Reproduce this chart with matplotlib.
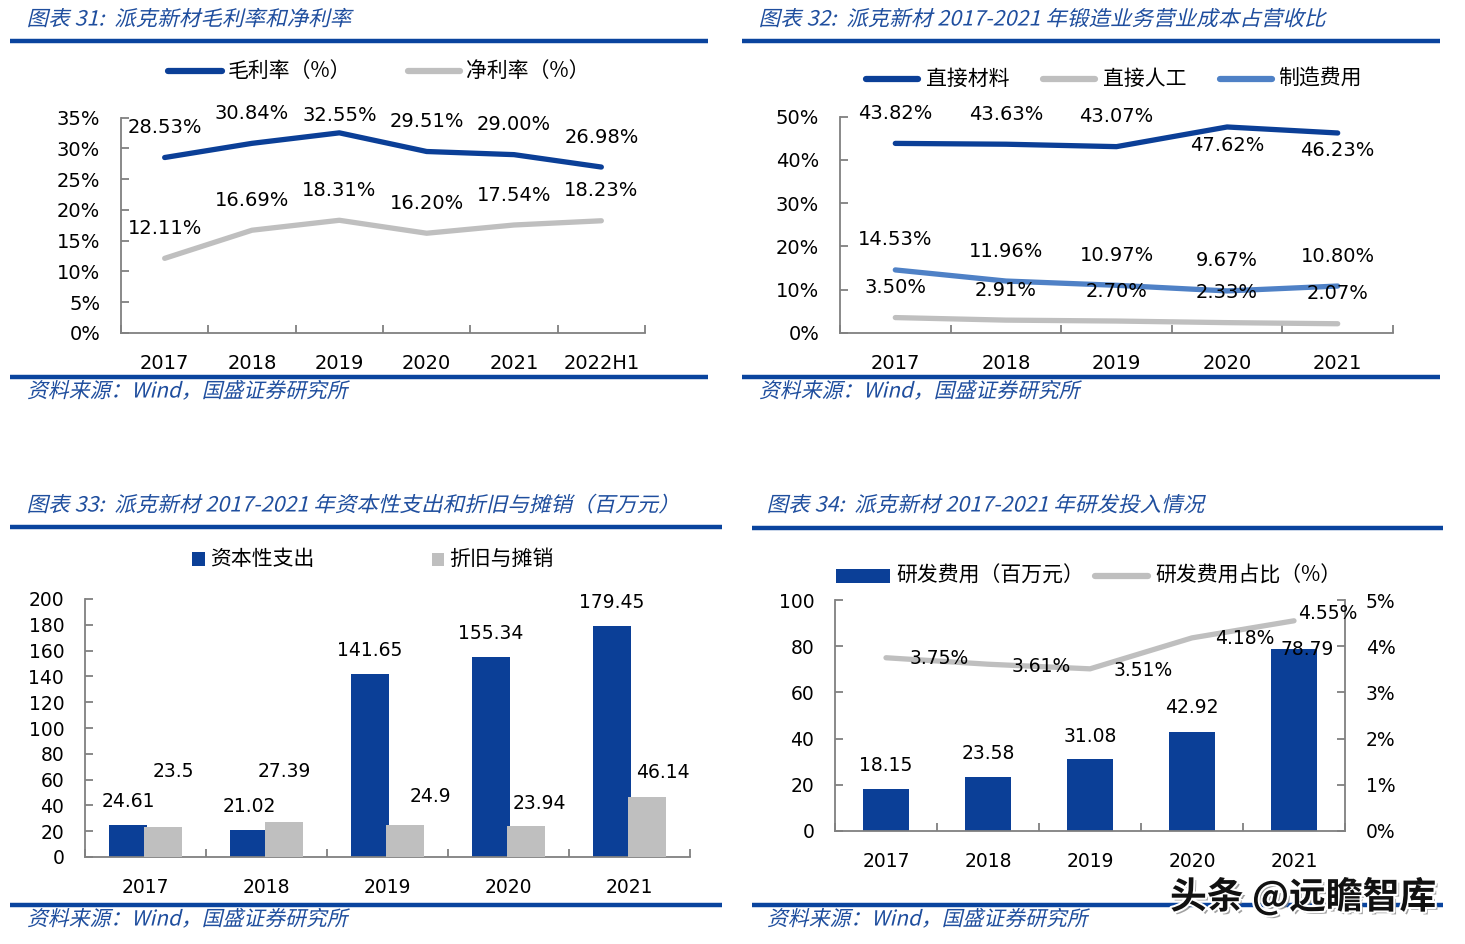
import matplotlib
matplotlib.use('Agg')
import matplotlib.pyplot as plt
import numpy as np
from matplotlib.font_manager import FontProperties
from matplotlib.textpath import TextPath
from matplotlib.patches import PathPatch, Rectangle
from matplotlib.transforms import Affine2D, IdentityTransform
from matplotlib.lines import Line2D
import matplotlib.patheffects as pe
from matplotlib.ticker import FuncFormatter

# ---------------- data ----------------
years6 = ['2017', '2018', '2019', '2020', '2021', '2022H1']
gross_margin = [28.53, 30.84, 32.55, 29.51, 29.00, 26.98]
net_margin = [12.11, 16.69, 18.31, 16.20, 17.54, 18.23]

years5 = ['2017', '2018', '2019', '2020', '2021']
direct_material = [43.82, 43.63, 43.07, 47.62, 46.23]
direct_labor = [3.50, 2.91, 2.70, 2.33, 2.07]
manufacturing = [14.53, 11.96, 10.97, 9.67, 10.80]

capex = [24.61, 21.02, 141.65, 155.34, 179.45]
depreciation = [23.5, 27.39, 24.9, 23.94, 46.14]

rd_expense = [18.15, 23.58, 31.08, 42.92, 78.79]
rd_ratio = [3.75, 3.61, 3.51, 4.18, 4.55]

titles = ['图表 31:  派克新材毛利率和净利率',
          '图表 32:  派克新材 2017-2021 年锻造业务营业成本占营收比',
          '图表 33:  派克新材 2017-2021 年资本性支出和折旧与摊销（百万元）',
          '图表 34:  派克新材 2017-2021 年研发投入情况']
source = '资料来源：Wind，国盛证券研究所'

# ---------------- style ----------------
W, H, DPI = 1465, 944, 100
DARK = '#0B3F97'
GRAY = '#BFBFBF'
LIGHT = '#4F81C6'
TITLE = '#1F4E9E'
RULE = '#0A449E'
SPINE = '#808080'
CJK = ['Noto Sans CJK SC', 'DejaVu Sans']
plt.rcParams['font.family'] = ['DejaVu Sans', 'Noto Sans CJK SC']
plt.rcParams['text.color'] = 'black'

fig = plt.figure(figsize=(W / DPI, H / DPI), dpi=DPI)
fig.patch.set_facecolor('white')


def add_axes_px(l, t, r, b):
    return fig.add_axes([l / W, 1 - b / H, (r - l) / W, (b - t) / H])


def rule(x1, x2, y, lw=3.2):
    fig.add_artist(Line2D([x1 / W, x2 / W], [1 - y / H] * 2, color=RULE, lw=lw,
                          transform=fig.transFigure, solid_capstyle='butt'))


def slanted(x, yc, s, size, color=TITLE, hscale=1.0, skew=13):
    fp = FontProperties(family=CJK, size=size)
    tp = TextPath((0, 0), s, prop=fp)
    k = DPI / 72.0
    p = Affine2D().skew_deg(skew, 0).scale(k * hscale, k).transform_path(tp)
    ext = p.get_extents()
    base = (H - yc) - 0.36 * size * k
    p = Affine2D().translate(x - ext.x0, base).transform_path(p)
    fig.add_artist(PathPatch(p, facecolor=color, edgecolor='none', lw=0,
                             transform=IdentityTransform()))


def leg_line(x1, x2, y, color, lw=4.5):
    fig.add_artist(Line2D([x1 / W, x2 / W], [1 - y / H] * 2, color=color, lw=lw,
                          solid_capstyle='round', transform=fig.transFigure))


def leg_rect(x1, x2, y1, y2, color):
    fig.add_artist(Rectangle((x1 / W, 1 - y2 / H), (x2 - x1) / W, (y2 - y1) / H,
                             facecolor=color, edgecolor='none', transform=fig.transFigure))


def leg_text(x, y, s, size=15):
    fig.text(x / W, 1 - y / H, s, fontsize=size, family=CJK, va='center', ha='left')


def style_ax(ax, labels, ylim, yticks, yfmt, fs):
    n = len(labels)
    ax.set_xlim(-0.5, n - 0.5)
    ax.set_ylim(*ylim)
    for s in ['top', 'right']:
        ax.spines[s].set_visible(False)
    for s in ['left', 'bottom']:
        ax.spines[s].set_color(SPINE)
        ax.spines[s].set_linewidth(1.3)
    ax.set_xticks(range(n))
    ax.set_xticklabels(labels)
    ax.set_xticks(np.arange(n + 1) - 0.5, minor=True)
    ax.tick_params(axis='x', which='major', length=0, pad=15, labelsize=fs)
    ax.tick_params(axis='x', which='minor', direction='in', length=6, width=1.3, color=SPINE)
    ax.set_yticks(yticks)
    ax.yaxis.set_major_formatter(FuncFormatter(yfmt))
    ax.tick_params(axis='y', direction='in', length=6, width=1.3, pad=15, labelsize=fs, color=SPINE)
    ax.patch.set_alpha(0)


pct = lambda v, p: f'{v:.0f}%'
num = lambda v, p: f'{v:.0f}'

TS, TH = 15, 1.035   # title size / horizontal scale
SS = 15              # source size

# ---------------- panel 1 ----------------
slanted(28, 18, titles[0], TS, hscale=TH)
rule(10, 708, 41)
leg_line(168, 222, 71, DARK)
leg_text(228, 71, '毛利率（%）')
leg_line(408, 460, 71, GRAY)
leg_text(466, 71, '净利率（%）')

ax1 = add_axes_px(121, 117.8, 645, 332.7)
style_ax(ax1, years6, (0, 35), range(0, 36, 5), pct, 14)
x6 = np.arange(len(years6))
ax1.plot(x6, gross_margin, color=DARK, lw=3.8, solid_capstyle='round', clip_on=False)
ax1.plot(x6, net_margin, color=GRAY, lw=3.8, solid_capstyle='round', clip_on=False)
gm_dy = [30, 30, 17.5, 30, 30, 30]
for i, v in enumerate(gross_margin):
    ax1.annotate(f'{v:.2f}%', (i, v), xytext=(0, gm_dy[i]), textcoords='offset pixels',
                 ha='center', va='center', fontsize=14, annotation_clip=False)
for i, v in enumerate(net_margin):
    ax1.annotate(f'{v:.2f}%', (i, v), xytext=(0, 30), textcoords='offset pixels',
                 ha='center', va='center', fontsize=14, annotation_clip=False)
rule(10, 708, 377)
slanted(28, 390, source, SS)

# ---------------- panel 2 ----------------
slanted(760, 18, titles[1], TS, hscale=TH)
rule(742, 1440, 41)
leg_line(866, 918, 79, DARK)
leg_text(926, 79, '直接材料')
leg_line(1043, 1095, 79, GRAY)
leg_text(1103, 79, '直接人工')
leg_line(1220, 1272, 79, LIGHT)
leg_text(1278, 79, '制造费用')

ax2 = add_axes_px(840, 116.7, 1393, 332.7)
style_ax(ax2, years5, (0, 50), range(0, 51, 10), pct, 14)
x5 = np.arange(len(years5))
ax2.plot(x5, direct_material, color=DARK, lw=3.8, solid_capstyle='round', clip_on=False)
ax2.plot(x5, direct_labor, color=GRAY, lw=3.8, solid_capstyle='round', clip_on=False)
ax2.plot(x5, manufacturing, color=LIGHT, lw=3.8, solid_capstyle='round', clip_on=False)
dm_dy = [30, 30, 30, -19, -18]
for i, v in enumerate(direct_material):
    ax2.annotate(f'{v:.2f}%', (i, v), xytext=(0, dm_dy[i]), textcoords='offset pixels',
                 ha='center', va='center', fontsize=14, annotation_clip=False)
for series in (manufacturing, direct_labor):
    for i, v in enumerate(series):
        ax2.annotate(f'{v:.2f}%', (i, v), xytext=(0, 30), textcoords='offset pixels',
                     ha='center', va='center', fontsize=14, annotation_clip=False)
rule(742, 1440, 377)
slanted(760, 390, source, SS)

# ---------------- panel 3 ----------------
slanted(28, 504, titles[2], TS, hscale=TH)
rule(10, 722, 527)
leg_rect(192, 205, 552, 566, DARK)
leg_text(210, 559, '资本性支出')
leg_rect(432, 444, 553, 566, GRAY)
leg_text(449, 559, '折旧与摊销')

ax3 = add_axes_px(85, 599, 690, 857)
style_ax(ax3, years5, (0, 200), range(0, 201, 20), num, 13.5)
bw = 0.31
ax3.bar(x5 - 0.145, capex, width=bw, color=DARK, zorder=2)
ax3.bar(x5 + 0.145, depreciation, width=bw, color=GRAY, zorder=3)
for i, v in enumerate(capex):
    ax3.annotate(f'{v:g}', (i - 0.145, v), xytext=(0, 23.5), textcoords='offset pixels',
                 ha='center', va='center', fontsize=13.5, annotation_clip=False)
dep_dx = [10, 0, 25, 13, 16]
dep_dy = [55, 50, 28, 23, 25]
for i, v in enumerate(depreciation):
    ax3.annotate(f'{v:g}', (i + 0.145, v), xytext=(dep_dx[i], dep_dy[i]),
                 textcoords='offset pixels', ha='center', va='center', fontsize=13.5,
                 annotation_clip=False)
rule(10, 722, 905)
slanted(28, 918, source, SS)

# ---------------- panel 4 ----------------
slanted(768, 504, titles[3], TS, hscale=TH)
rule(752, 1443, 528)
leg_rect(836, 890, 569, 583, DARK)
leg_text(896, 576, '研发费用（百万元）')
leg_line(1095, 1148, 576, GRAY)
leg_text(1155, 576, '研发费用占比（%）')

ax4 = add_axes_px(835, 600, 1345, 831)
style_ax(ax4, years5, (0, 100), range(0, 101, 20), num, 13.5)
ax4.bar(x5, rd_expense, width=0.45, color=DARK, zorder=2)
rd_dx = [0, 0, 0, 0, 13]
rd_dy = [24, 23.5, 23, 24, -1]
for i, v in enumerate(rd_expense):
    ax4.annotate(f'{v:.2f}', (i, v), xytext=(rd_dx[i], rd_dy[i]), textcoords='offset pixels',
                 ha='center', va='center', fontsize=13.5, annotation_clip=False, zorder=5)
ax4b = ax4.twinx()
ax4b.set_ylim(0, 5)
ax4b.set_yticks(range(0, 6))
ax4b.yaxis.set_major_formatter(FuncFormatter(pct))
for s in ['top', 'left', 'bottom']:
    ax4b.spines[s].set_visible(False)
ax4b.spines['right'].set_color(SPINE)
ax4b.spines['right'].set_linewidth(1.3)
ax4b.tick_params(axis='y', direction='in', length=6, width=1.3, pad=15, labelsize=13.5, color=SPINE)
ax4b.plot(x5, rd_ratio, color=GRAY, lw=3.8, solid_capstyle='round', clip_on=False)
rr_dx = [53, 53, 53, 53, 34]
rr_dy = [-1, -2, -2, -1, 7]
for i, v in enumerate(rd_ratio):
    ax4b.annotate(f'{v:.2f}%', (i, v), xytext=(rr_dx[i], rr_dy[i]), textcoords='offset pixels',
                  ha='center', va='center', fontsize=13.5, annotation_clip=False)
rule(752, 1443, 905)
slanted(768, 918, source, SS)

# ---------------- watermark ----------------
fig.text(1170 / W, 1 - 897 / H, '头条 @远瞻智库', fontsize=26.5, family=CJK, weight='bold',
         color='#111111', va='center', ha='left',
         path_effects=[pe.withSimplePatchShadow(offset=(2, -2), shadow_rgbFace='#888888', alpha=0.8),
                       pe.withStroke(linewidth=3, foreground='white')])

fig.savefig('out.png', dpi=DPI, facecolor='white')
